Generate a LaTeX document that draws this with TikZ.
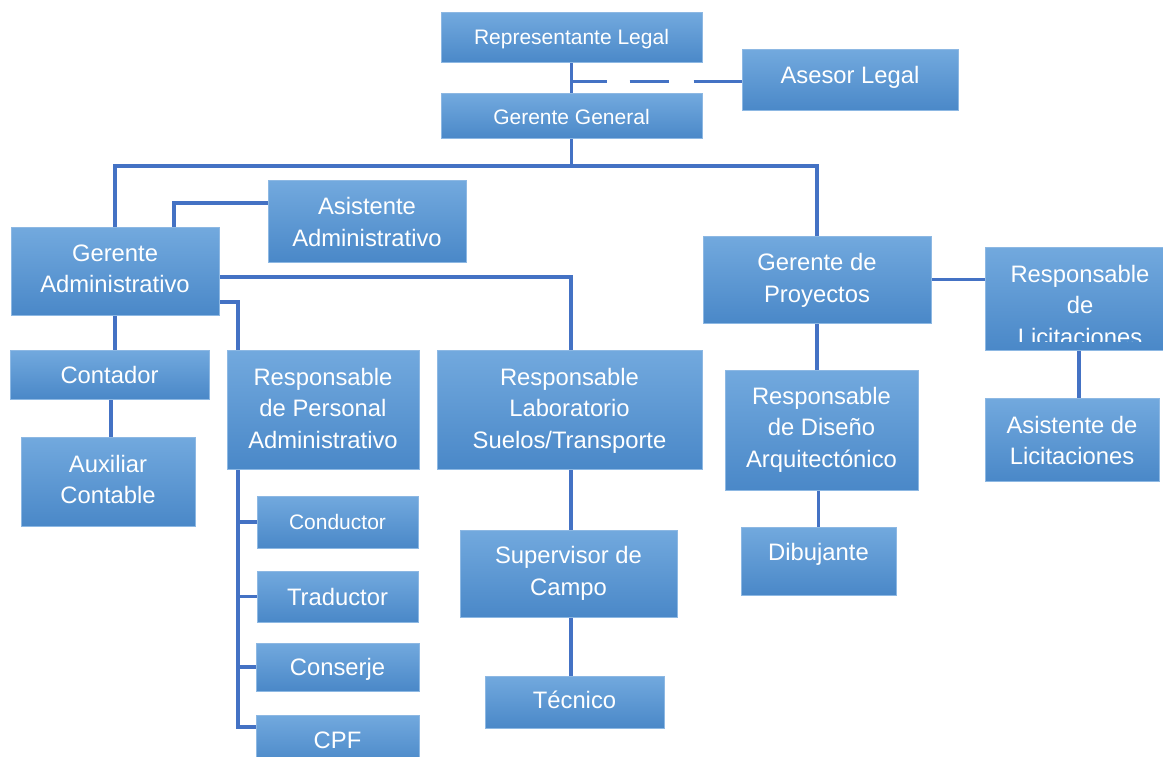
\documentclass[tikz,border=0pt]{standalone}
\usepackage{fontspec}
\setmainfont{Liberation Sans}
\usetikzlibrary{calc,backgrounds}

\definecolor{linkblue}{HTML}{4472C4}
\definecolor{boxtop}{HTML}{72A9DE}
\definecolor{boxmid}{HTML}{5B9BD5}
\definecolor{boxbot}{HTML}{4A88C8}
\definecolor{boxedge}{HTML}{8DB8E3}

\newcommand\smallsize{\fontsize{21}{26}\selectfont}

\tikzset{
  orgbox/.style={rectangle, inner sep=0pt, outer sep=0pt, anchor=north west,
    draw=boxedge, line width=1pt,
    top color=boxtop, middle color=boxmid, bottom color=boxbot},
  orgtext/.style={text=white, align=center, inner sep=0pt, text depth=0pt,
    font=\fontsize{23.8}{31.5}\selectfont},
  link/.style={draw=linkblue, line width=3.5pt},
}

% name, left, top, right, bottom, text centre y, text
\newcommand\orgunit[7]{%
  \node[orgbox, minimum width={#4-#2}, minimum height={#5-#3}] (#1) at (#2,#3) {};
  \node[orgtext] (#1-label) at ({(#2+#4)/2},#6) {#7};
}

\begin{document}
\begin{tikzpicture}[x=1pt,y=-1pt]
\useasboundingbox (0,0) rectangle (1163,757);
\clip (0,0) rectangle (1163,757);

% top management
\orgunit{RL}{441}{13}{702}{63}{37}{\smallsize Representante Legal}
\orgunit{Asesor}{742}{50}{958}{111}{75}{Asesor Legal}
\orgunit{GG}{441}{94}{702}{139}{117}{\smallsize Gerente General}

% administration branch
\orgunit{GA}{11}{228}{219}{315}{268.5}{Gerente\\Administrativo}
\orgunit{AA}{268}{181}{466}{262}{222}{Asistente\\Administrativo}
\orgunit{Cont}{10}{350}{209}{399}{375}{Contador}
\orgunit{AC}{21}{437}{195}{526}{479.5}{Auxiliar\\Contable}
\orgunit{RP}{227}{350}{419}{469}{408}{Responsable\\de Personal\\Administrativo}
\orgunit{Cond}{257}{496}{418}{548}{522}{\smallsize Conductor}
\orgunit{Trad}{257}{571}{418}{622}{596.5}{Traductor}
\orgunit{Cons}{256}{643}{419}{691}{667}{Conserje}
\orgunit{CPF}{256}{715}{419}{765}{740}{CPF}
\orgunit{RLab}{437}{350}{702}{469}{408}{Responsable\\Laboratorio\\Suelos/Transporte}
\orgunit{SC}{460}{530}{677}{617}{571}{Supervisor de\\Campo}
\orgunit{Tec}{485}{676}{664}{728}{700}{Técnico}

% projects branch
\orgunit{GP}{703}{236}{931}{323}{278}{Gerente de\\Proyectos}
\orgunit{RD}{725}{370}{918}{490}{427}{Responsable\\de Diseño\\Arquitectónico}
\orgunit{Dib}{741}{527}{896}{595}{552}{Dibujante}
\node[orgbox, minimum width=188, minimum height=103] (RLic) at (985,247) {};
\begin{scope}
  \clip (985,247) rectangle (1173,341);
  \node[orgtext] (RLic-label) at (1080,305) {Responsable\\de\\Licitaciones};
\end{scope}
\orgunit{ALic}{985}{398}{1159}{481}{440.5}{Asistente de\\Licitaciones}

% reporting lines
\begin{scope}[on background layer]
  \draw[link] (RL.south) -- (GG.north);
  \coordinate (tap) at ($(RL.south)!0.6!(GG.north)$);
  \draw[link, dash pattern=on 35pt off 23pt on 39pt off 25pt on 80pt]
    (tap) -- (tap -| Asesor.west);

  \draw[link] (GG.south) -- ++(0,27) coordinate (bus);
  \draw[link] (bus) -| (GA.north);
  \draw[link] (bus) -| (GP.north);

  \draw[link] ($(GA.north west)+(163,0)$) |- ($(AA.north west)+(0,22)$);
  \draw[link] ($(GA.north east)+(0,49)$) -| ($(RLab.north)+(1.5,0)$);
  \draw[link] ($(GA.north east)+(0,74)$) -| ($(RP.north west)+(11,0)$);
  \draw[link] (GA.south) -- (GA.south |- Cont.north);
  \draw[link] ($(Cont.south)+(1.5,0)$) coordinate (contaxis) -- (contaxis |- AC.north);

  \coordinate (rpbus) at ($(RP.south west)+(11,0)$);
  \foreach \c in {Cond,Trad,Cons} \draw[link] (rpbus) |- (\c.west);
  \draw[link] (rpbus) |- ($(CPF.north west)+(0,12)$);

  \coordinate (labaxis) at ($(RLab.south)+(1.5,0)$);
  \draw[link] (labaxis) -- (labaxis |- SC.north);
  \draw[link] (labaxis |- SC.south) -- (labaxis |- Tec.north);

  \draw[link] (GP.east) -- (GP.east -| RLic.west);
  \draw[link] (RLic.south) -- (RLic.south |- ALic.north);
  \draw[link] (GP.south) -- (GP.south |- RD.north);
  \draw[link] (Dib.north |- RD.south) -- (Dib.north);
\end{scope}
\end{tikzpicture}
\end{document}
